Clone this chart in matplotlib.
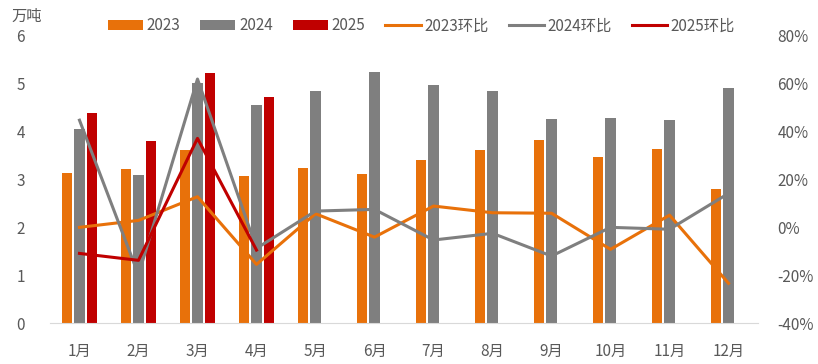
import matplotlib
matplotlib.use("Agg")
import matplotlib.pyplot as plt
import matplotlib.ticker as mticker
import numpy as np

plt.rcParams['font.family'] = ['Noto Sans CJK SC', 'DejaVu Sans']

months = ['1月', '2月', '3月', '4月', '5月', '6月', '7月', '8月', '9月', '10月', '11月', '12月']

vol_2023 = [3.14, 3.21, 3.62, 3.08, 3.24, 3.12, 3.41, 3.62, 3.82, 3.47, 3.63, 2.80]
vol_2024 = [4.05, 3.10, 5.01, 4.55, 4.86, 5.25, 4.98, 4.86, 4.27, 4.28, 4.25, 4.92]
vol_2025 = [4.39, 3.80, 5.22, 4.73]

mom_2023 = [0.0, 2.9, 12.8, -15.5, 5.7, -4.1, 8.9, 6.1, 5.9, -9.2, 5.1, -23.4]
mom_2024 = [44.8, -19.8, 62.0, -8.8, 6.8, 7.5, -5.3, -2.5, -12.0, 0.0, -0.8, 14.2]
mom_2025 = [-10.9, -13.8, 37.2, -9.5]

c23 = '#E8710A'
c24 = '#7F7F7F'
c25 = '#C00000'
txt = '#595959'

fig = plt.figure(figsize=(8.18, 3.64), dpi=100)
ax = fig.add_axes([0.0611, 0.1126, 0.8656, 0.7885])
ax2 = ax.twinx()

x = np.arange(len(months))
w = 0.18
off = 0.21
b1 = ax.bar(x - off, vol_2023, w, color=c23, label='2023', zorder=2)
b2 = ax.bar(x, vol_2024, w, color=c24, label='2024', zorder=2)
b3 = ax.bar(x[:len(vol_2025)] + off, vol_2025, w, color=c25, label='2025', zorder=2)

l1, = ax2.plot(x, mom_2023, color=c23, lw=2.2, label='2023环比')
l2, = ax2.plot(x, mom_2024, color=c24, lw=2.2, label='2024环比')
l3, = ax2.plot(x[:len(mom_2025)], mom_2025, color=c25, lw=2.2, label='2025环比')

ax.set_xlim(-0.5, 11.5)
ax.set_ylim(0, 6)
ax2.set_ylim(-40, 80)
ax.set_yticks(range(0, 7))
ax2.set_yticks(range(-40, 81, 20))
ax2.yaxis.set_major_formatter(mticker.FuncFormatter(lambda v, p: f'{int(v)}%'))

ax.set_xticks(x)
ax.set_xticklabels(months)

for a in (ax, ax2):
    for s in ('top', 'left', 'right'):
        a.spines[s].set_visible(False)
    a.spines['bottom'].set_visible(False)
    a.tick_params(length=0, labelsize=11, colors=txt)
ax.spines['bottom'].set_visible(True)
ax.spines['bottom'].set_color('#D9D9D9')
ax.spines['bottom'].set_zorder(3)
ax.tick_params(axis='y', pad=18)
ax.tick_params(axis='x', pad=14)
ax2.tick_params(axis='y', pad=14)

fig.text(0.014, 0.955, '万吨', fontsize=11, color=txt, va='center', ha='left')

handles = [b1, b2, b3, l1, l2, l3]
leg = fig.legend(handles, [h.get_label() for h in handles], loc='center',
                 bbox_to_anchor=(0.515, 0.929), ncol=6, frameon=False,
                 fontsize=11, handlelength=2.3, handletextpad=0.25,
                 columnspacing=1.3, labelcolor=txt)

fig.savefig('out.png', dpi=100)
